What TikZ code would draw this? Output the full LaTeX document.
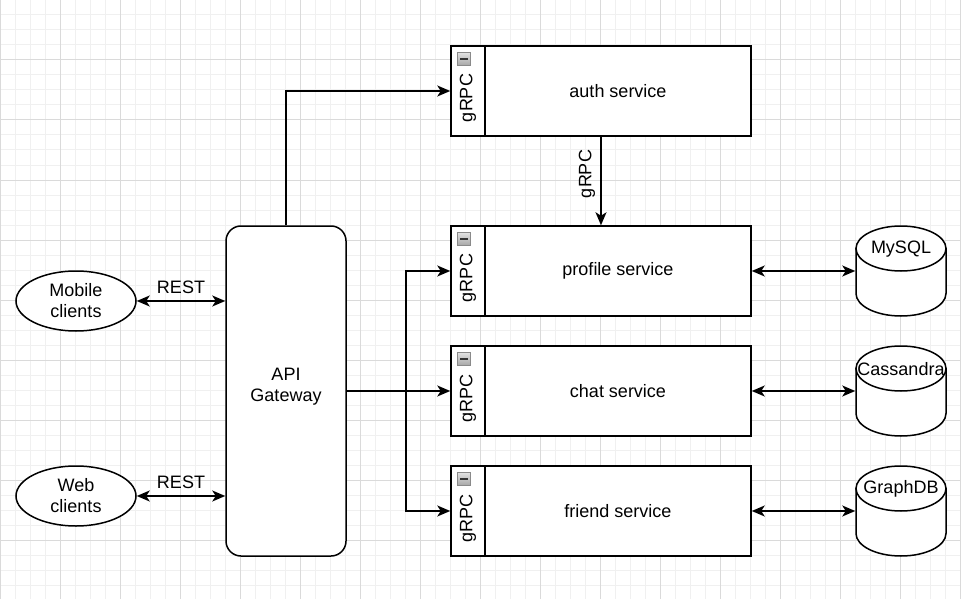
\documentclass[tikz,border=0pt]{standalone}
\usepackage{fontspec}
\setmainfont{Liberation Sans}
\usetikzlibrary{arrows.meta,shapes.geometric}
\definecolor{gridminor}{HTML}{F0F0F0}
\definecolor{gridmajor}{HTML}{DADADA}
\definecolor{iconborder}{HTML}{8A8A8A}
\definecolor{icontop}{HTML}{E2E2E2}
\definecolor{iconbot}{HTML}{A6A6A6}
\definecolor{iconline}{HTML}{333333}
\tikzset{
  every node/.style={font=\fontsize{18}{21}\selectfont},
  gminor/.style={draw=gridminor,line width=1pt},
  gmajor/.style={draw=gridmajor,line width=1pt},
  svc/.style={draw,rectangle,minimum width=300,minimum height=90,inner sep=0,fill=white},
  lbl/.style={inner sep=0,align=center},
  icon/.style={draw=iconborder,line width=1pt,minimum size=13,inner sep=0,top color=icontop,bottom color=iconbot},
  iconminus/.style={draw=iconline,line width=1.5pt},
  arr/.style={-{Stealth[length=13pt,width=11pt,inset=3.5pt]}},
  darr/.style={{Stealth[length=13pt,width=11pt,inset=3.5pt]}-{Stealth[length=13pt,width=11pt,inset=3.5pt]}},
  dbnode/.style={rectangle,minimum width=90,minimum height=90,inner sep=0},
}
\newcommand\svcbox[3]{%
  \node[svc] (#1) at (601,#2) {};
  \node[lbl] (#1-txt) at (618,#2) {#3};
  \draw (485,{#2-45}) -- (485,{#2+45});
  \node[lbl,rotate=90] (#1-proto) at (468,{#2+7}) {gRPC};
  \node[icon] (#1-icon) at (464,{#2-32}) {};
  \draw[iconminus] (460,{#2-32}) -- (468,{#2-32});
}
\newcommand\dbcyl[4]{%
  \node[dbnode] (#1) at (#2,#3) {};
  \draw[fill=white] ({#2-45},{#3-22.5}) -- ({#2-45},{#3+22.5})
    .. controls ({#2-45},{#3+34.93}) and ({#2-24.85},{#3+45}) .. ({#2},{#3+45})
    .. controls ({#2+24.85},{#3+45}) and ({#2+45},{#3+34.93}) .. ({#2+45},{#3+22.5})
    -- ({#2+45},{#3-22.5}) -- cycle;
  \draw[fill=white] ({#2},{#3-22.5}) ellipse [x radius=45,y radius=22.5];
  \node[lbl] (#1-txt) at ({#2},{#3-22}) {#4};
}
\begin{document}
\begin{tikzpicture}[x=1pt,y=-1pt,line width=1.5pt]
\useasboundingbox (0,0) rectangle (961,599);
\fill[white] (0,0) rectangle (961,599);
\foreach \i in {0,15,...,960} \draw[gminor] (\i,0) -- (\i,599);
\foreach \i in {0,15,...,585} \draw[gminor] (0,\i) -- (961,\i);
\foreach \i in {0,60,...,960} \draw[gmajor] (\i,0) -- (\i,599);
\foreach \i in {0,60,...,585} \draw[gmajor] (0,\i) -- (961,\i);

% services
\svcbox{auth}{91}{auth service}
\svcbox{profile}{271}{profile service}
\svcbox{chat}{391}{chat service}
\svcbox{friend}{511}{friend service}

% gateway and clients
\node[draw,fill=white,rectangle,rounded corners=15,minimum width=120,minimum height=330,inner sep=0] (gw) at (286,391) {};
\node[lbl] (gwtxt) at (286,387) {API\\Gateway};
\node[draw,fill=white,ellipse,minimum width=120,minimum height=60,inner sep=0,align=center] (mobile) at (76,301) {Mobile\\clients};
\node[draw,fill=white,ellipse,minimum width=120,minimum height=60,inner sep=0,align=center] (web) at (76,496) {Web\\clients};

% databases
\dbcyl{mysql}{901}{271}{MySQL}
\dbcyl{cass}{901}{391}{Cassandra}
\dbcyl{graph}{901}{511}{GraphDB}

% connectors
\draw[darr] (mobile.east) -- (gw.west |- mobile.east) node[lbl,midway,above=7pt] (rest1) {REST};
\draw[darr] (web.east) -- (gw.west |- web.east) node[lbl,midway,above=7pt] (rest2) {REST};
\draw[arr] (gw.north) |- (auth.west);
\draw[arr] (gw.east) -- (chat.west);
\coordinate (br) at (406,391);
\draw[arr] (br) |- (profile.west);
\draw[arr] (br) |- (friend.west);
\draw[arr] (auth.south) -- (profile.north);
\node[lbl,rotate=90] (authgrpc) at (587,174) {gRPC};
\draw[darr] (profile.east) -- (mysql.west);
\draw[darr] (chat.east) -- (cass.west);
\draw[darr] (friend.east) -- (graph.west);
\end{tikzpicture}
\end{document}
